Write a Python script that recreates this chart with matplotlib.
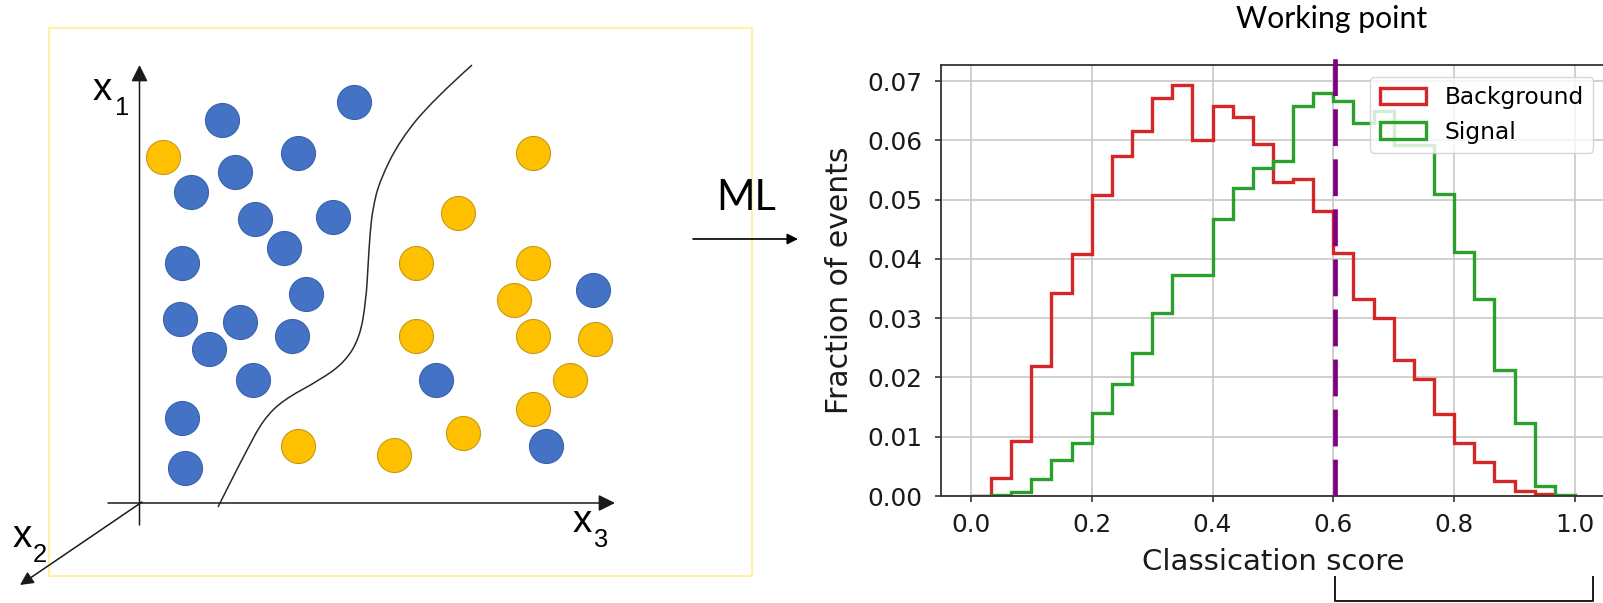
import numpy as np
import matplotlib
matplotlib.use('Agg')
import matplotlib.pyplot as plt
from matplotlib.patches import Rectangle, FancyArrowPatch, PathPatch
from matplotlib.path import Path
from matplotlib.transforms import blended_transform_factory

# fraction of events per bin of the classification score (30 bins on [0, 1])
n_bins = 30
background = [0.0, 0.003, 0.0093, 0.022, 0.0342, 0.0409, 0.0508, 0.0573, 0.0616, 0.0672,
              0.0693, 0.060, 0.0658, 0.064, 0.0593, 0.053, 0.0535, 0.048, 0.041, 0.0332,
              0.0301, 0.023, 0.0198, 0.0138, 0.009, 0.0058, 0.0025, 0.0009, 0.0003, 0.0]
signal = [0.0, 0.0002, 0.0007, 0.0029, 0.006, 0.009, 0.014, 0.0189, 0.0242, 0.0308,
          0.0373, 0.0373, 0.0468, 0.0519, 0.0554, 0.0565, 0.0657, 0.0679, 0.0667, 0.063,
          0.065, 0.0592, 0.0592, 0.051, 0.0412, 0.0332, 0.0212, 0.0123, 0.0017, 0.0002]
working_point = 0.603
selected_upper = 1.03

# toy feature space: (x3, x1) of the two classes
blue_x3 = [82, 214, 158, 95, 51, 115, 193, 144, 42, 166, 40, 100, 69, 152, 113, 42, 45, 453, 296, 406]
blue_x1 = [383, 401, 350, 331, 311, 284, 286, 255, 240, 209, 184, 181, 154, 167, 123, 85, 35, 213, 123, 57]
yellow_x3 = [23, 393, 318, 276, 393, 374, 276, 393, 455, 430, 393, 323, 254, 158]
yellow_x1 = [346, 350, 290, 240, 240, 203, 167, 167, 164, 123, 94, 70, 48, 57]

# decision boundary (x3, x1)
boundary_x3 = [78, 93, 107, 123, 143, 180, 205, 220, 226, 228, 230, 233, 240, 260, 293, 332]
boundary_x1 = [-4, 26, 53, 83, 103, 123, 141, 166, 203, 236, 270, 296, 323, 363, 403, 438]

W, H = 1603, 603
fig = plt.figure(figsize=(W / 100, H / 100), dpi=100)

# overlay in pixel units (y down) for the sketch and annotations
ax0 = fig.add_axes([0, 0, 1, 1])
ax0.set_xlim(0, W)
ax0.set_ylim(H, 0)
ax0.axis('off')

ox, oy = 140, 503  # where the sketch axes cross


def to_px(x3, x1):
    return np.asarray(x3) + ox, oy - np.asarray(x1)


ax0.add_patch(Rectangle((49, 28), 703, 548, fill=False, ec='#fff2a8', lw=1.5, zorder=1))

# sketch axes
arrow_kw = dict(arrowstyle='-|>', color='#1a1a1a', lw=1.1, shrinkA=0, shrinkB=0, zorder=3)
ax0.add_patch(FancyArrowPatch((139.5, 525), (139.5, 65), mutation_scale=25, **arrow_kw))
ax0.add_patch(FancyArrowPatch((108, 503), (615, 503), mutation_scale=25, **arrow_kw))
ax0.add_patch(FancyArrowPatch((142, 502), (20, 585), mutation_scale=20, **arrow_kw))

lab_font = 'Liberation Sans'
for (xx, yy), (sx, sy), sub in [((93, 100), (115, 115), '1'),
                                ((13, 547), (33, 562), '2'),
                                ((573, 532), (593, 547), '3')]:
    ax0.text(xx, yy, 'x', fontfamily=lab_font, fontsize=27.7, va='baseline', ha='left')
    ax0.text(sx, sy, sub, fontfamily=lab_font, fontsize=18.4, va='baseline', ha='left')

# smooth boundary through the control points (quadratic B-spline)
bx, by = to_px(boundary_x3, boundary_x1)
pts = list(zip(bx, by))
verts = [pts[0]]
codes = [Path.MOVETO]
for i in range(1, len(pts) - 1):
    mid = ((pts[i][0] + pts[i + 1][0]) / 2, (pts[i][1] + pts[i + 1][1]) / 2)
    if i == len(pts) - 2:
        mid = pts[-1]
    verts += [pts[i], mid]
    codes += [Path.CURVE3, Path.CURVE3]
ax0.add_patch(PathPatch(Path(verts, codes), fill=False, ec='#2b2b2b', lw=1.1, zorder=2))

px, py = to_px(blue_x3, blue_x1)
ax0.scatter(px, py, s=600, c='#4472c4', edgecolors='#3a62ab', linewidths=0.8, zorder=4)
px, py = to_px(yellow_x3, yellow_x1)
ax0.scatter(px, py, s=600, c='#ffc000', edgecolors='#c49a14', linewidths=0.8, zorder=4)

# "ML" arrow between the panels
ax0.text(746, 210, 'ML', fontfamily='Lato', fontsize=30, ha='center', va='baseline')
ax0.add_patch(FancyArrowPatch((693, 239), (798, 239), arrowstyle='-|>', mutation_scale=16,
                              color='black', lw=1.2, shrinkA=0, shrinkB=0))

# score histogram
ax = fig.add_axes([940.7 / W, (H - 496) / H, 664.4 / W, 431 / H])
edges = np.linspace(0, 1, n_bins + 1)
centers = (edges[:-1] + edges[1:]) / 2
ax.hist(centers, bins=edges, weights=background, histtype='step', color='tab:red', lw=2.4,
        label='Background')
ax.hist(centers, bins=edges, weights=signal, histtype='step', color='tab:green', lw=2.4,
        label='Signal')
ax.axvline(working_point, ymin=0, ymax=1.019, color='purple', lw=3.4, dashes=(7.8, 2.8),
           clip_on=False, zorder=3)
ax.set_xlim(-0.05, 1.05)
ax.set_ylim(0, 0.0727)
ax.set_xticks([0.0, 0.2, 0.4, 0.6, 0.8, 1.0])
ax.grid(True, color='#c8c8c8', lw=1.2)
ax.set_axisbelow(True)
for s in ax.spines.values():
    s.set_linewidth(1.3)
    s.set_color('#333333')
ax.spines['right'].set_visible(False)
ax.tick_params(axis='both', labelsize=17.8, length=4, width=1.2, colors='#333333',
               labelcolor='#1a1a1a')
ax.tick_params(axis='y', pad=9.5)
ax.tick_params(axis='x', pad=8.3)
ax.set_xlabel('Classication score', fontsize=21, labelpad=8, color='#1a1a1a')
ax.set_ylabel('Fraction of events', fontsize=21.5, labelpad=9, color='#1a1a1a')
ax.legend(loc='upper right', fontsize=16.8)

ax0.text(1332, 28, 'Working point', fontfamily='Lato', fontsize=21.7, ha='center', va='baseline')

# bracket under the selected score range
tr = blended_transform_factory(ax.transData, ax0.transData)
ax0.plot([working_point, working_point, selected_upper, selected_upper], [577, 601, 601, 577],
         color='#1a1a1a', lw=1.4, transform=tr, clip_on=False)

fig.savefig('out.png', dpi=100)
